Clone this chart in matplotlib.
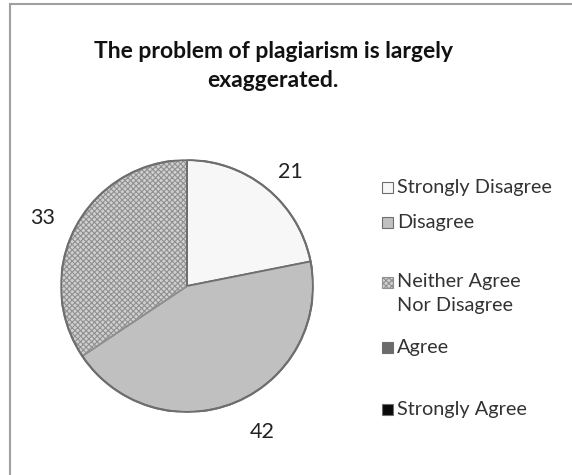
import numpy as np
import matplotlib
matplotlib.use("Agg")
import matplotlib.pyplot as plt
from matplotlib.patches import Rectangle

categories = ["Strongly Disagree", "Disagree", "Neither Agree\nNor Disagree", "Agree", "Strongly Agree"]
values = [21, 42, 33, 0, 0]
title = "The problem of plagiarism is largely\nexaggerated."

colors = ["#f7f7f7", "#c0c0c0", "#d0d0d0", "#6b6b6b", "#0a0a0a"]
hatches = [None, None, "xxxxxx", None, None]

plt.rcParams['font.family'] = ['Lato', 'DejaVu Sans']
plt.rcParams['hatch.linewidth'] = 0.8

W, H = 572, 475
fig = plt.figure(figsize=(W / 100, H / 100), dpi=100)
fig.patch.set_facecolor("white")

# outer chart border (extends past right/bottom)
fig.add_artist(Rectangle((10 / W, -0.05), 1.2, (H - 4) / H + 0.05, transform=fig.transFigure,
                         fill=False, edgecolor="#a0a0a0", linewidth=1.5))

cx, cy, r = 187, 286, 126
ax = fig.add_axes([(cx - r) / W, (H - cy - r) / H, 2 * r / W, 2 * r / H])

wedges, _ = ax.pie(values, colors=colors, startangle=90, counterclock=False,
                   wedgeprops=dict(edgecolor="#6e6e6e", linewidth=1.3), radius=1.0)
ax.set_xlim(-1, 1)
ax.set_ylim(-1, 1)
ax.set_aspect("equal")
ax.axis("off")
for w, h in zip(wedges, hatches):
    if h:
        w.set_hatch(h)
        w.set_edgecolor("#909090")

# outline of the whole pie
circ = plt.Circle((0, 0), 1.0, fill=False, edgecolor="#6e6e6e", linewidth=1.5)
ax.add_patch(circ)

# data labels: distance from centre (in radii) and angular shift (deg) from the wedge middle
label_dist = [1.22, 1.30, 1.27, 1.2, 1.2]
label_shift = [-2.7, 4.7, 3.0, 0, 0]
for w, v, d, s in zip(wedges, values, label_dist, label_shift):
    if v == 0:
        continue
    ang = np.deg2rad((w.theta1 + w.theta2) / 2 + s)
    ax.text(d * np.cos(ang), d * np.sin(ang), str(v), ha="center", va="center",
            fontsize=15.5, color="#222222", clip_on=False)

fig.text(273 / W, 1 - 66 / H, title, ha="center", va="center", fontsize=16.5,
         fontweight="bold", linespacing=1.5, color="#111111")

# legend
leg_y = [187, 222, 282, 347, 409]
for w, lab, y in zip(wedges, categories, leg_y):
    sq = Rectangle((382 / W, 1 - (y + 6) / H), 11 / W, 11 / H, transform=fig.transFigure,
                   facecolor=w.get_facecolor(), edgecolor="#6e6e6e", linewidth=0.8,
                   hatch=w.get_hatch())
    if w.get_hatch():
        sq.set_edgecolor("#909090")
    fig.add_artist(sq)
    lines = lab.split("\n")
    for i, line in enumerate(lines):
        fig.text(397 / W, 1 - (y + 24 * i) / H, line, ha="left", va="center",
                 fontsize=14.3, color="#333333")

fig.savefig("out.png", dpi=100)
